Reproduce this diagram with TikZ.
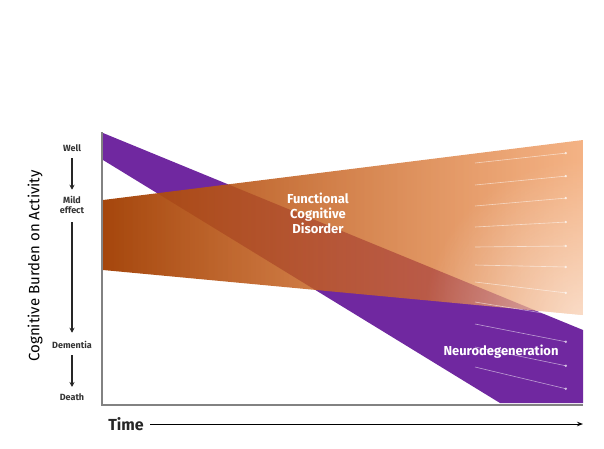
\documentclass[tikz,border=0pt]{standalone}
\usepackage{fontspec}
\setmainfont{Fira Sans}
\usepackage{tikz}
\usetikzlibrary{arrows.meta,positioning,calc,fadings}
\definecolor{nddpurple}{RGB}{112,40,160}
\definecolor{fcddark}{RGB}{165,70,12}
\definecolor{fcdmid}{RGB}{238,132,58}
\definecolor{fcdlight}{RGB}{236,128,52}
\definecolor{axisgray}{RGB}{130,130,130}
\tikzfading[name=fcdfade, left color=transparent!0, right color=transparent!40]
\tikzfading[name=glowfade, inner color=transparent!45, outer color=transparent!100]

\tikzset{
  level/.style={font=\fontsize{9}{10}\selectfont\bfseries, align=center, text=black!80},
  stage/.style={-{Stealth[length=5pt,width=5pt]}, line width=1.3pt, black!85},
  drift/.style={-{Circle[length=2.5pt]}, white, opacity=0.55, line width=0.6pt},
  bandlabel/.style={font=\fontsize{13}{15}\selectfont\bfseries, text=white, align=center}
}

\begin{document}
\begin{tikzpicture}[x=1pt,y=-1pt]
\useasboundingbox (0,0) rectangle (604,448);

% Neurodegeneration band
\fill[nddpurple] (103,133) -- (583,330) -- (583,403) -- (500,403) -- (103,160) -- cycle;

% Functional cognitive disorder band
\begin{scope}
  \clip (103,200) -- (583,140) -- (583,315) -- (103,270) -- cycle;
  \shade[left color=fcddark, middle color=fcdmid, right color=fcdlight, path fading=fcdfade]
    (103,140) rectangle (583,315);
  \fill[white, path fading=glowfade] (583,320) circle (160);
\end{scope}

% Drift arrows
\foreach \ys/\ye in {163/153,185/176,206/198,227/222,247/246,265/267,282/293,302/317,324/342,347/366,367/389}
  \draw[drift] (475,\ys) -- (567,\ye);

% Axes
\draw[axisgray, line width=1.5pt] (102,132) -- (102,405) -- (583,405);

% Band labels
\node[bandlabel] (fcd) at (318,213) {Functional\\Cognitive\\Disorder};
\node[bandlabel] (ndd) at (501,352) {Neurodegeneration};

% Level scale
\node[level] (well) at (72,148) {Well};
\node[level] (mild) at (72,205) {Mild\\effect};
\node[level] (dementia) at (72,345) {Dementia};
\node[level] (death) at (72,397) {Death};
\draw[stage] ($(well.south)+(0,3)$) -- ($(mild.north)+(0,-3)$);
\draw[stage] ($(mild.south)+(0,5)$) -- ($(dementia.north)+(0,-5)$);
\draw[stage] ($(dementia.south)+(0,3)$) -- ($(death.north)+(0,-3)$);

% Axis titles
\node[rotate=90, font=\fontsize{15}{17}\selectfont] (ylabel) at (35,266) {Cognitive Burden on Activity};
\node[font=\fontsize{16}{18}\selectfont\bfseries, text=black!85] (time) at (126,424) {Time};
\coordinate (timeend) at (583,424);
\draw[-{Stealth[length=6pt]}, line width=1pt] ($(time.east)+(3,0)$) -- (timeend);
\end{tikzpicture}
\end{document}
